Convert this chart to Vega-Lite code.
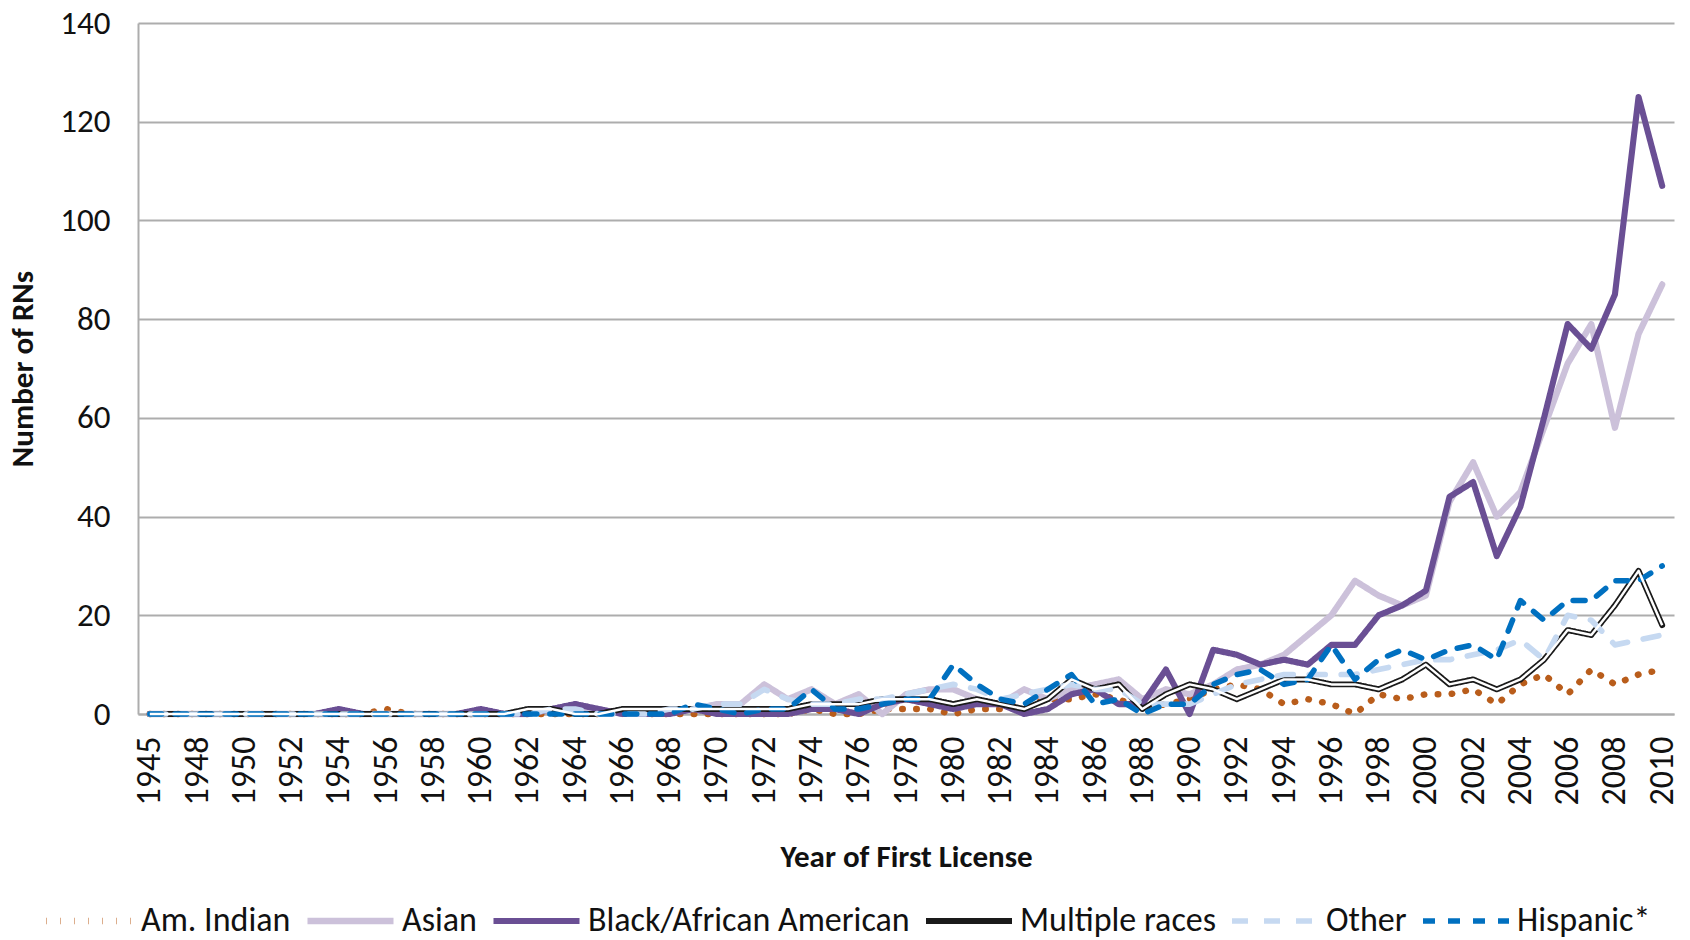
{
"$schema":"https://vega.github.io/schema/vega-lite/v6.json",
"width":1536,"height":691,"autosize":"none",
"padding":{"left":138,"top":23,"right":16,"bottom":226},
"background":"white",
"config":{"font":"Carlito, Lato, sans-serif","view":{"stroke":null},
"legend":{"orient":"none","legendX":-95,"legendY":880,"direction":"horizontal","symbolType":"stroke","symbolSize":7400,"symbolStrokeWidth":5.5,"clipHeight":36,"labelFontSize":34,"labelColor":"#111","labelOffset":5,"columnPadding":13,"title":null,"labelLimit":0}},
"data":{"values":[
{"year":1945,"race":"Am. Indian","n":0},{"year":1947,"race":"Am. Indian","n":0},{"year":1948,"race":"Am. Indian","n":0},{"year":1949,"race":"Am. Indian","n":0},{"year":1950,"race":"Am. Indian","n":0},{"year":1951,"race":"Am. Indian","n":0},{"year":1952,"race":"Am. Indian","n":0},{"year":1953,"race":"Am. Indian","n":0},{"year":1954,"race":"Am. Indian","n":0},{"year":1955,"race":"Am. Indian","n":0},{"year":1956,"race":"Am. Indian","n":1},{"year":1957,"race":"Am. Indian","n":0},{"year":1958,"race":"Am. Indian","n":0},{"year":1959,"race":"Am. Indian","n":0},{"year":1960,"race":"Am. Indian","n":0},{"year":1961,"race":"Am. Indian","n":0},{"year":1962,"race":"Am. Indian","n":0},{"year":1963,"race":"Am. Indian","n":0},{"year":1964,"race":"Am. Indian","n":0},{"year":1965,"race":"Am. Indian","n":0},{"year":1966,"race":"Am. Indian","n":1},{"year":1967,"race":"Am. Indian","n":0},{"year":1968,"race":"Am. Indian","n":0},{"year":1969,"race":"Am. Indian","n":0},{"year":1970,"race":"Am. Indian","n":0},{"year":1971,"race":"Am. Indian","n":0},{"year":1972,"race":"Am. Indian","n":0},{"year":1973,"race":"Am. Indian","n":0},{"year":1974,"race":"Am. Indian","n":1},{"year":1975,"race":"Am. Indian","n":0},{"year":1976,"race":"Am. Indian","n":0},{"year":1977,"race":"Am. Indian","n":1},{"year":1978,"race":"Am. Indian","n":1},{"year":1979,"race":"Am. Indian","n":1},{"year":1980,"race":"Am. Indian","n":0},{"year":1981,"race":"Am. Indian","n":1},{"year":1982,"race":"Am. Indian","n":1},{"year":1983,"race":"Am. Indian","n":2},{"year":1984,"race":"Am. Indian","n":3},{"year":1985,"race":"Am. Indian","n":3},{"year":1986,"race":"Am. Indian","n":4},{"year":1987,"race":"Am. Indian","n":3},{"year":1988,"race":"Am. Indian","n":1},{"year":1989,"race":"Am. Indian","n":2},{"year":1990,"race":"Am. Indian","n":3},{"year":1991,"race":"Am. Indian","n":5},{"year":1992,"race":"Am. Indian","n":6},{"year":1993,"race":"Am. Indian","n":5},{"year":1994,"race":"Am. Indian","n":2},{"year":1995,"race":"Am. Indian","n":3},{"year":1996,"race":"Am. Indian","n":2},{"year":1997,"race":"Am. Indian","n":0},{"year":1998,"race":"Am. Indian","n":4},{"year":1999,"race":"Am. Indian","n":3},{"year":2000,"race":"Am. Indian","n":4},{"year":2001,"race":"Am. Indian","n":4},{"year":2002,"race":"Am. Indian","n":5},{"year":2003,"race":"Am. Indian","n":2},{"year":2004,"race":"Am. Indian","n":6},{"year":2005,"race":"Am. Indian","n":8},{"year":2006,"race":"Am. Indian","n":4},{"year":2007,"race":"Am. Indian","n":9},{"year":2008,"race":"Am. Indian","n":6},{"year":2009,"race":"Am. Indian","n":8},{"year":2010,"race":"Am. Indian","n":9},
{"year":1945,"race":"Asian","n":0},{"year":1947,"race":"Asian","n":0},{"year":1948,"race":"Asian","n":0},{"year":1949,"race":"Asian","n":0},{"year":1950,"race":"Asian","n":0},{"year":1951,"race":"Asian","n":0},{"year":1952,"race":"Asian","n":0},{"year":1953,"race":"Asian","n":0},{"year":1954,"race":"Asian","n":0},{"year":1955,"race":"Asian","n":0},{"year":1956,"race":"Asian","n":0},{"year":1957,"race":"Asian","n":0},{"year":1958,"race":"Asian","n":0},{"year":1959,"race":"Asian","n":0},{"year":1960,"race":"Asian","n":0},{"year":1961,"race":"Asian","n":0},{"year":1962,"race":"Asian","n":0},{"year":1963,"race":"Asian","n":1},{"year":1964,"race":"Asian","n":1},{"year":1965,"race":"Asian","n":1},{"year":1966,"race":"Asian","n":0},{"year":1967,"race":"Asian","n":1},{"year":1968,"race":"Asian","n":1},{"year":1969,"race":"Asian","n":1},{"year":1970,"race":"Asian","n":2},{"year":1971,"race":"Asian","n":2},{"year":1972,"race":"Asian","n":6},{"year":1973,"race":"Asian","n":3},{"year":1974,"race":"Asian","n":5},{"year":1975,"race":"Asian","n":2},{"year":1976,"race":"Asian","n":4},{"year":1977,"race":"Asian","n":0},{"year":1978,"race":"Asian","n":4},{"year":1979,"race":"Asian","n":5},{"year":1980,"race":"Asian","n":5},{"year":1981,"race":"Asian","n":3},{"year":1982,"race":"Asian","n":2},{"year":1983,"race":"Asian","n":5},{"year":1984,"race":"Asian","n":3},{"year":1985,"race":"Asian","n":5},{"year":1986,"race":"Asian","n":6},{"year":1987,"race":"Asian","n":7},{"year":1988,"race":"Asian","n":3},{"year":1989,"race":"Asian","n":5},{"year":1990,"race":"Asian","n":4},{"year":1991,"race":"Asian","n":6},{"year":1992,"race":"Asian","n":9},{"year":1993,"race":"Asian","n":10},{"year":1994,"race":"Asian","n":12},{"year":1995,"race":"Asian","n":16},{"year":1996,"race":"Asian","n":20},{"year":1997,"race":"Asian","n":27},{"year":1998,"race":"Asian","n":24},{"year":1999,"race":"Asian","n":22},{"year":2000,"race":"Asian","n":24},{"year":2001,"race":"Asian","n":43},{"year":2002,"race":"Asian","n":51},{"year":2003,"race":"Asian","n":40},{"year":2004,"race":"Asian","n":45},{"year":2005,"race":"Asian","n":58},{"year":2006,"race":"Asian","n":71},{"year":2007,"race":"Asian","n":79},{"year":2008,"race":"Asian","n":58},{"year":2009,"race":"Asian","n":77},{"year":2010,"race":"Asian","n":87},
{"year":1945,"race":"Black/African American","n":0},{"year":1947,"race":"Black/African American","n":0},{"year":1948,"race":"Black/African American","n":0},{"year":1949,"race":"Black/African American","n":0},{"year":1950,"race":"Black/African American","n":0},{"year":1951,"race":"Black/African American","n":0},{"year":1952,"race":"Black/African American","n":0},{"year":1953,"race":"Black/African American","n":0},{"year":1954,"race":"Black/African American","n":1},{"year":1955,"race":"Black/African American","n":0},{"year":1956,"race":"Black/African American","n":0},{"year":1957,"race":"Black/African American","n":0},{"year":1958,"race":"Black/African American","n":0},{"year":1959,"race":"Black/African American","n":0},{"year":1960,"race":"Black/African American","n":1},{"year":1961,"race":"Black/African American","n":0},{"year":1962,"race":"Black/African American","n":0},{"year":1963,"race":"Black/African American","n":1},{"year":1964,"race":"Black/African American","n":2},{"year":1965,"race":"Black/African American","n":1},{"year":1966,"race":"Black/African American","n":0},{"year":1967,"race":"Black/African American","n":0},{"year":1968,"race":"Black/African American","n":0},{"year":1969,"race":"Black/African American","n":1},{"year":1970,"race":"Black/African American","n":0},{"year":1971,"race":"Black/African American","n":0},{"year":1972,"race":"Black/African American","n":0},{"year":1973,"race":"Black/African American","n":0},{"year":1974,"race":"Black/African American","n":1},{"year":1975,"race":"Black/African American","n":1},{"year":1976,"race":"Black/African American","n":0},{"year":1977,"race":"Black/African American","n":2},{"year":1978,"race":"Black/African American","n":3},{"year":1979,"race":"Black/African American","n":2},{"year":1980,"race":"Black/African American","n":1},{"year":1981,"race":"Black/African American","n":2},{"year":1982,"race":"Black/African American","n":2},{"year":1983,"race":"Black/African American","n":0},{"year":1984,"race":"Black/African American","n":1},{"year":1985,"race":"Black/African American","n":4},{"year":1986,"race":"Black/African American","n":5},{"year":1987,"race":"Black/African American","n":2},{"year":1988,"race":"Black/African American","n":2},{"year":1989,"race":"Black/African American","n":9},{"year":1990,"race":"Black/African American","n":0},{"year":1991,"race":"Black/African American","n":13},{"year":1992,"race":"Black/African American","n":12},{"year":1993,"race":"Black/African American","n":10},{"year":1994,"race":"Black/African American","n":11},{"year":1995,"race":"Black/African American","n":10},{"year":1996,"race":"Black/African American","n":14},{"year":1997,"race":"Black/African American","n":14},{"year":1998,"race":"Black/African American","n":20},{"year":1999,"race":"Black/African American","n":22},{"year":2000,"race":"Black/African American","n":25},{"year":2001,"race":"Black/African American","n":44},{"year":2002,"race":"Black/African American","n":47},{"year":2003,"race":"Black/African American","n":32},{"year":2004,"race":"Black/African American","n":42},{"year":2005,"race":"Black/African American","n":60},{"year":2006,"race":"Black/African American","n":79},{"year":2007,"race":"Black/African American","n":74},{"year":2008,"race":"Black/African American","n":85},{"year":2009,"race":"Black/African American","n":125},{"year":2010,"race":"Black/African American","n":107},
{"year":1945,"race":"Multiple races","n":0},{"year":1947,"race":"Multiple races","n":0},{"year":1948,"race":"Multiple races","n":0},{"year":1949,"race":"Multiple races","n":0},{"year":1950,"race":"Multiple races","n":0},{"year":1951,"race":"Multiple races","n":0},{"year":1952,"race":"Multiple races","n":0},{"year":1953,"race":"Multiple races","n":0},{"year":1954,"race":"Multiple races","n":0},{"year":1955,"race":"Multiple races","n":0},{"year":1956,"race":"Multiple races","n":0},{"year":1957,"race":"Multiple races","n":0},{"year":1958,"race":"Multiple races","n":0},{"year":1959,"race":"Multiple races","n":0},{"year":1960,"race":"Multiple races","n":0},{"year":1961,"race":"Multiple races","n":0},{"year":1962,"race":"Multiple races","n":1},{"year":1963,"race":"Multiple races","n":1},{"year":1964,"race":"Multiple races","n":0},{"year":1965,"race":"Multiple races","n":0},{"year":1966,"race":"Multiple races","n":1},{"year":1967,"race":"Multiple races","n":1},{"year":1968,"race":"Multiple races","n":1},{"year":1969,"race":"Multiple races","n":1},{"year":1970,"race":"Multiple races","n":1},{"year":1971,"race":"Multiple races","n":1},{"year":1972,"race":"Multiple races","n":1},{"year":1973,"race":"Multiple races","n":1},{"year":1974,"race":"Multiple races","n":2},{"year":1975,"race":"Multiple races","n":2},{"year":1976,"race":"Multiple races","n":2},{"year":1977,"race":"Multiple races","n":3},{"year":1978,"race":"Multiple races","n":3},{"year":1979,"race":"Multiple races","n":3},{"year":1980,"race":"Multiple races","n":2},{"year":1981,"race":"Multiple races","n":3},{"year":1982,"race":"Multiple races","n":2},{"year":1983,"race":"Multiple races","n":1},{"year":1984,"race":"Multiple races","n":3},{"year":1985,"race":"Multiple races","n":7},{"year":1986,"race":"Multiple races","n":5},{"year":1987,"race":"Multiple races","n":6},{"year":1988,"race":"Multiple races","n":1},{"year":1989,"race":"Multiple races","n":4},{"year":1990,"race":"Multiple races","n":6},{"year":1991,"race":"Multiple races","n":5},{"year":1992,"race":"Multiple races","n":3},{"year":1993,"race":"Multiple races","n":5},{"year":1994,"race":"Multiple races","n":7},{"year":1995,"race":"Multiple races","n":7},{"year":1996,"race":"Multiple races","n":6},{"year":1997,"race":"Multiple races","n":6},{"year":1998,"race":"Multiple races","n":5},{"year":1999,"race":"Multiple races","n":7},{"year":2000,"race":"Multiple races","n":10},{"year":2001,"race":"Multiple races","n":6},{"year":2002,"race":"Multiple races","n":7},{"year":2003,"race":"Multiple races","n":5},{"year":2004,"race":"Multiple races","n":7},{"year":2005,"race":"Multiple races","n":11},{"year":2006,"race":"Multiple races","n":17},{"year":2007,"race":"Multiple races","n":16},{"year":2008,"race":"Multiple races","n":22},{"year":2009,"race":"Multiple races","n":29},{"year":2010,"race":"Multiple races","n":18},
{"year":1945,"race":"Other","n":0},{"year":1947,"race":"Other","n":0},{"year":1948,"race":"Other","n":0},{"year":1949,"race":"Other","n":0},{"year":1950,"race":"Other","n":0},{"year":1951,"race":"Other","n":0},{"year":1952,"race":"Other","n":0},{"year":1953,"race":"Other","n":0},{"year":1954,"race":"Other","n":0},{"year":1955,"race":"Other","n":0},{"year":1956,"race":"Other","n":0},{"year":1957,"race":"Other","n":0},{"year":1958,"race":"Other","n":0},{"year":1959,"race":"Other","n":0},{"year":1960,"race":"Other","n":0},{"year":1961,"race":"Other","n":0},{"year":1962,"race":"Other","n":0},{"year":1963,"race":"Other","n":1},{"year":1964,"race":"Other","n":1},{"year":1965,"race":"Other","n":0},{"year":1966,"race":"Other","n":0},{"year":1967,"race":"Other","n":0},{"year":1968,"race":"Other","n":1},{"year":1969,"race":"Other","n":1},{"year":1970,"race":"Other","n":2},{"year":1971,"race":"Other","n":2},{"year":1972,"race":"Other","n":5},{"year":1973,"race":"Other","n":3},{"year":1974,"race":"Other","n":2},{"year":1975,"race":"Other","n":2},{"year":1976,"race":"Other","n":3},{"year":1977,"race":"Other","n":3},{"year":1978,"race":"Other","n":4},{"year":1979,"race":"Other","n":5},{"year":1980,"race":"Other","n":6},{"year":1981,"race":"Other","n":5},{"year":1982,"race":"Other","n":3},{"year":1983,"race":"Other","n":4},{"year":1984,"race":"Other","n":5},{"year":1985,"race":"Other","n":6},{"year":1986,"race":"Other","n":5},{"year":1987,"race":"Other","n":5},{"year":1988,"race":"Other","n":2},{"year":1989,"race":"Other","n":2},{"year":1990,"race":"Other","n":2},{"year":1991,"race":"Other","n":4},{"year":1992,"race":"Other","n":6},{"year":1993,"race":"Other","n":7},{"year":1994,"race":"Other","n":8},{"year":1995,"race":"Other","n":8},{"year":1996,"race":"Other","n":8},{"year":1997,"race":"Other","n":8},{"year":1998,"race":"Other","n":9},{"year":1999,"race":"Other","n":10},{"year":2000,"race":"Other","n":11},{"year":2001,"race":"Other","n":11},{"year":2002,"race":"Other","n":12},{"year":2003,"race":"Other","n":13},{"year":2004,"race":"Other","n":15},{"year":2005,"race":"Other","n":11},{"year":2006,"race":"Other","n":20},{"year":2007,"race":"Other","n":19},{"year":2008,"race":"Other","n":14},{"year":2009,"race":"Other","n":15},{"year":2010,"race":"Other","n":16},
{"year":1945,"race":"Hispanic*","n":0},{"year":1947,"race":"Hispanic*","n":0},{"year":1948,"race":"Hispanic*","n":0},{"year":1949,"race":"Hispanic*","n":0},{"year":1950,"race":"Hispanic*","n":0},{"year":1951,"race":"Hispanic*","n":0},{"year":1952,"race":"Hispanic*","n":0},{"year":1953,"race":"Hispanic*","n":0},{"year":1954,"race":"Hispanic*","n":0},{"year":1955,"race":"Hispanic*","n":0},{"year":1956,"race":"Hispanic*","n":0},{"year":1957,"race":"Hispanic*","n":0},{"year":1958,"race":"Hispanic*","n":0},{"year":1959,"race":"Hispanic*","n":0},{"year":1960,"race":"Hispanic*","n":0},{"year":1961,"race":"Hispanic*","n":0},{"year":1962,"race":"Hispanic*","n":0},{"year":1963,"race":"Hispanic*","n":0},{"year":1964,"race":"Hispanic*","n":0},{"year":1965,"race":"Hispanic*","n":0},{"year":1966,"race":"Hispanic*","n":0},{"year":1967,"race":"Hispanic*","n":0},{"year":1968,"race":"Hispanic*","n":0},{"year":1969,"race":"Hispanic*","n":2},{"year":1970,"race":"Hispanic*","n":1},{"year":1971,"race":"Hispanic*","n":0},{"year":1972,"race":"Hispanic*","n":1},{"year":1973,"race":"Hispanic*","n":1},{"year":1974,"race":"Hispanic*","n":5},{"year":1975,"race":"Hispanic*","n":1},{"year":1976,"race":"Hispanic*","n":1},{"year":1977,"race":"Hispanic*","n":2},{"year":1978,"race":"Hispanic*","n":3},{"year":1979,"race":"Hispanic*","n":3},{"year":1980,"race":"Hispanic*","n":10},{"year":1981,"race":"Hispanic*","n":6},{"year":1982,"race":"Hispanic*","n":3},{"year":1983,"race":"Hispanic*","n":2},{"year":1984,"race":"Hispanic*","n":5},{"year":1985,"race":"Hispanic*","n":8},{"year":1986,"race":"Hispanic*","n":2},{"year":1987,"race":"Hispanic*","n":3},{"year":1988,"race":"Hispanic*","n":0},{"year":1989,"race":"Hispanic*","n":2},{"year":1990,"race":"Hispanic*","n":2},{"year":1991,"race":"Hispanic*","n":6},{"year":1992,"race":"Hispanic*","n":8},{"year":1993,"race":"Hispanic*","n":9},{"year":1994,"race":"Hispanic*","n":6},{"year":1995,"race":"Hispanic*","n":7},{"year":1996,"race":"Hispanic*","n":14},{"year":1997,"race":"Hispanic*","n":7},{"year":1998,"race":"Hispanic*","n":11},{"year":1999,"race":"Hispanic*","n":13},{"year":2000,"race":"Hispanic*","n":11},{"year":2001,"race":"Hispanic*","n":13},{"year":2002,"race":"Hispanic*","n":14},{"year":2003,"race":"Hispanic*","n":11},{"year":2004,"race":"Hispanic*","n":23},{"year":2005,"race":"Hispanic*","n":19},{"year":2006,"race":"Hispanic*","n":23},{"year":2007,"race":"Hispanic*","n":23},{"year":2008,"race":"Hispanic*","n":27},{"year":2009,"race":"Hispanic*","n":27},{"year":2010,"race":"Hispanic*","n":30}
]},
"layer":[
{"mark":{"type":"line","strokeCap":"round","strokeJoin":"round"},
"encoding":{
"x":{"field":"year","type":"ordinal","scale":{"type":"point","padding":0.5},
"axis":{"values":[1945,1948,1950,1952,1954,1956,1958,1960,1962,1964,1966,1968,1970,1972,1974,1976,1978,1980,1982,1984,1986,1988,1990,1992,1994,1996,1998,2000,2002,2004,2006,2008,2010],
"labelAngle":-90,"labelFontSize":34,"labelColor":"#111","labelPadding":22,"labelOverlap":false,"ticks":false,"domain":true,"domainColor":"#ADADAD","domainWidth":2,"grid":false,
"title":"Year of First License","titleFontSize":31,"titleFontWeight":"bold","titleColor":"#111","titlePadding":38}},
"y":{"field":"n","type":"quantitative","scale":{"domain":[0,140],"nice":false},
"axis":{"values":[0,20,40,60,80,100,120,140],"grid":true,"gridColor":"#ADADAD","gridWidth":2,"domain":true,"domainColor":"#ADADAD","domainWidth":2,"ticks":false,
"labelFontSize":33,"labelColor":"#111","labelPadding":28,"title":"Number of RNs","titleFontSize":31,"titleFontWeight":"bold","titleColor":"#111","titlePadding":20}},
"color":{"field":"race","type":"nominal","scale":{"domain":["Am. Indian","Asian","Black/African American","Multiple races","Other","Hispanic*"],"range":["#B95D1B","#CCC1DA","#6A4F94","#1A1A1A","#C6D9F1","#0070C0"]},"legend":{"title":null}},
"strokeDash":{"field":"race","type":"nominal","scale":{"domain":["Am. Indian","Asian","Black/African American","Multiple races","Other","Hispanic*"],"range":[[0.5,13.5],[1,0],[1,0],[1,0],[16,16],[12,13]]},"legend":{"title":null}},
"strokeWidth":{"field":"race","type":"nominal","scale":{"domain":["Am. Indian","Asian","Black/African American","Multiple races","Other","Hispanic*"],"range":[6.5,5.5,5.5,7,5.5,5.5]},"legend":null}
}},
{"transform":[{"filter":"datum.race === 'Multiple races'"}],
"mark":{"type":"line","strokeWidth":2.5,"color":"white","strokeJoin":"round"},
"encoding":{"x":{"field":"year","type":"ordinal"},"y":{"field":"n","type":"quantitative"}}}
]
}
